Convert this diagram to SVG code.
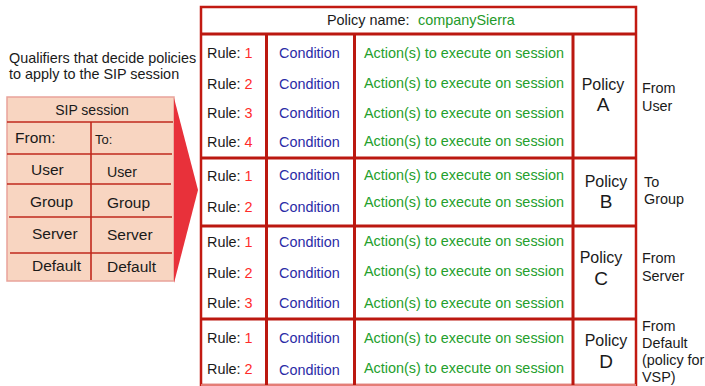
<svg xmlns="http://www.w3.org/2000/svg" width="705" height="386" viewBox="0 0 705 386">
  <style>
    text { font-family: "Liberation Sans", Arial, sans-serif; fill: #1a1a1a; }
    .t { font-size: 14.4px; }
    .sip { font-size: 15.5px; }
    .num { fill: #ff2b2b; }
    .cond { fill: #2b2ba6; }
    .act { fill: #24a02c; }
    .name { fill: #1f9a2a; }
    .pol { font-size: 16px; text-anchor: middle; }
    .letter { font-size: 19px; text-anchor: middle; }
    .grid { stroke: #bb1810; stroke-width: 3; fill: none; }
    .sipline { stroke: #c0281c; stroke-width: 1.6; fill: none; }
  </style>

  <!-- Qualifier panel: the SIP session fields -->
  <g id="sip-session">
    <text class="t" x="9" y="63">Qualifiers that decide policies</text>
    <text class="t" x="9" y="79">to apply to the SIP session</text>
    <rect x="7" y="97" width="167" height="184" fill="#f8d5c1" stroke="#e9a39a" stroke-width="1.5"/>
    <line class="sipline" x1="7" y1="122" x2="173" y2="122" stroke-width="2.2"/>
    <line class="sipline" x1="91" y1="122" x2="91" y2="280" stroke-width="2.2"/>
    <line class="sipline" x1="7" y1="154" x2="172" y2="154"/>
    <line class="sipline" x1="7" y1="184" x2="171" y2="184"/>
    <line class="sipline" x1="9" y1="217" x2="172" y2="217"/>
    <line class="sipline" x1="10" y1="253" x2="172" y2="253"/>
    <text x="92" y="115" font-size="14px" text-anchor="middle">SIP session</text>
    <text class="sip" x="15" y="143">From:</text>
    <text x="95" y="144" font-size="13px">To:</text>
    <text class="sip" x="31" y="175">User</text>
    <text x="107" y="177" font-size="14.2px">User</text>
    <text class="sip" x="30" y="207">Group</text>
    <text class="sip" x="107" y="208">Group</text>
    <text class="sip" x="32" y="239">Server</text>
    <text class="sip" x="107" y="240">Server</text>
    <text class="sip" x="32" y="271">Default</text>
    <text class="sip" x="107" y="272">Default</text>
  </g>

  <!-- Arrow feeding the qualifiers into the policy table -->
  <g id="connectors">
    <polygon points="174,98 198,190 174,283" fill="#e8313a"/>
  </g>

  <!-- Policy table -->
  <g id="policy-table">
    <rect x="201" y="7" width="435" height="378" fill="#ffffff" stroke="#c21a12" stroke-width="2.5"/>
    <line x1="201" y1="385" x2="636" y2="385" stroke="#ef9f98" stroke-width="1.5"/>
    <line class="grid" x1="201" y1="34" x2="636" y2="34"/>
    <line class="grid" x1="201" y1="158" x2="636" y2="158"/>
    <line class="grid" x1="201" y1="226" x2="636" y2="226"/>
    <line class="grid" x1="201" y1="319" x2="636" y2="319"/>
    <line class="grid" x1="266.5" y1="34" x2="266.5" y2="385"/>
    <line class="grid" x1="354.5" y1="34" x2="354.5" y2="385"/>
    <line class="grid" x1="573" y1="34" x2="573" y2="385"/>
    <text class="t" x="327" y="25">Policy name:</text>
    <text class="t name" x="418" y="25">companySierra</text>
  </g>

  <g id="policy-a">
    <text class="t" x="207" y="58">Rule: <tspan class="num">1</tspan></text>
    <text class="t" x="207" y="89">Rule: <tspan class="num">2</tspan></text>
    <text class="t" x="207" y="118">Rule: <tspan class="num">3</tspan></text>
    <text class="t" x="207" y="147">Rule: <tspan class="num">4</tspan></text>
    <text class="t cond" x="279" y="58">Condition</text>
    <text class="t cond" x="279" y="89">Condition</text>
    <text class="t cond" x="279" y="118">Condition</text>
    <text class="t cond" x="279" y="147">Condition</text>
    <text class="t act" x="364" y="58">Action(s) to execute on session</text>
    <text class="t act" x="364" y="88">Action(s) to execute on session</text>
    <text class="t act" x="364" y="118">Action(s) to execute on session</text>
    <text class="t act" x="364" y="146">Action(s) to execute on session</text>
    <text class="pol" x="603" y="90">Policy</text>
    <text class="letter" x="603" y="111">A</text>
    <text class="t" x="642" y="93">From</text>
    <text class="t" x="642" y="111">User</text>
  </g>

  <g id="policy-b">
    <text class="t" x="207" y="181">Rule: <tspan class="num">1</tspan></text>
    <text class="t" x="207" y="212">Rule: <tspan class="num">2</tspan></text>
    <text class="t cond" x="279" y="180">Condition</text>
    <text class="t cond" x="279" y="212">Condition</text>
    <text class="t act" x="364" y="180">Action(s) to execute on session</text>
    <text class="t act" x="364" y="207">Action(s) to execute on session</text>
    <text class="pol" x="606" y="187">Policy</text>
    <text class="letter" x="606" y="208">B</text>
    <text class="t" x="644" y="187">To</text>
    <text class="t" x="644" y="204">Group</text>
  </g>

  <g id="policy-c">
    <text class="t" x="207" y="247">Rule: <tspan class="num">1</tspan></text>
    <text class="t" x="207" y="278">Rule: <tspan class="num">2</tspan></text>
    <text class="t" x="207" y="308">Rule: <tspan class="num">3</tspan></text>
    <text class="t cond" x="279" y="247">Condition</text>
    <text class="t cond" x="279" y="278">Condition</text>
    <text class="t cond" x="279" y="308">Condition</text>
    <text class="t act" x="364" y="246">Action(s) to execute on session</text>
    <text class="t act" x="364" y="276">Action(s) to execute on session</text>
    <text class="t act" x="364" y="308">Action(s) to execute on session</text>
    <text class="pol" x="601" y="263">Policy</text>
    <text class="letter" x="601" y="285">C</text>
    <text class="t" x="642" y="263">From</text>
    <text class="t" x="642" y="281">Server</text>
  </g>

  <g id="policy-d">
    <text class="t" x="207" y="343">Rule: <tspan class="num">1</tspan></text>
    <text class="t" x="207" y="374">Rule: <tspan class="num">2</tspan></text>
    <text class="t cond" x="279" y="343">Condition</text>
    <text class="t cond" x="279" y="375">Condition</text>
    <text class="t act" x="364" y="343">Action(s) to execute on session</text>
    <text class="t act" x="364" y="373">Action(s) to execute on session</text>
    <text class="pol" x="606" y="346">Policy</text>
    <text class="letter" x="606" y="368">D</text>
    <text class="t" x="642" y="331">From</text>
    <text class="t" x="642" y="348">Default</text>
    <text class="t" x="642" y="365">(policy for</text>
    <text class="t" x="642" y="382">VSP)</text>
  </g>
</svg>
